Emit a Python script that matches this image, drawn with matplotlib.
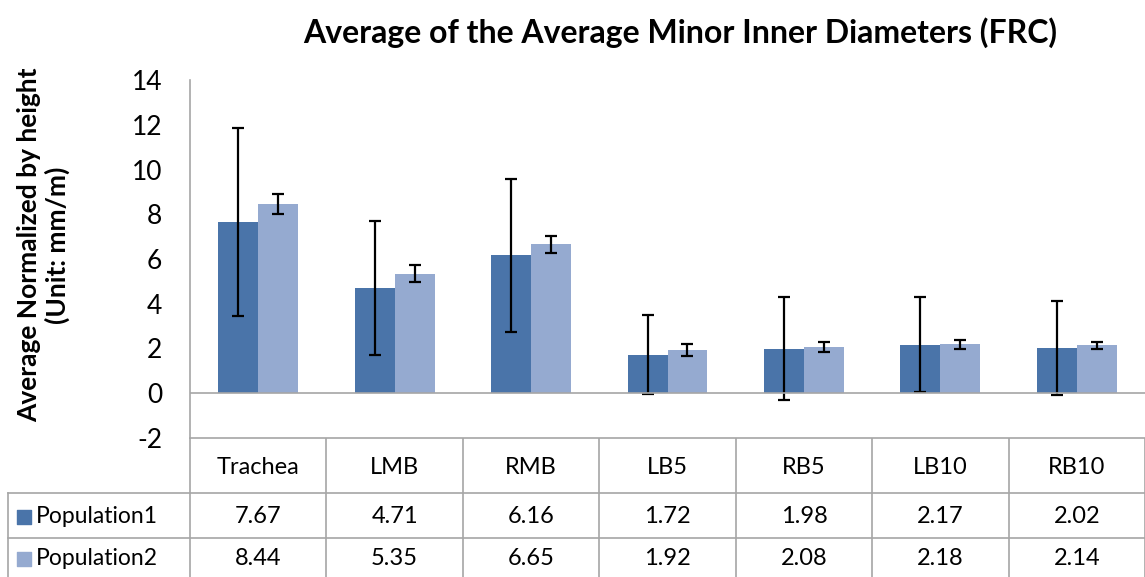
import matplotlib.pyplot as plt

categories = ["Trachea", "LMB", "RMB", "LB5", "RB5", "LB10", "RB10"]
series_names = ["Population1", "Population2"]
pop1 = [7.67, 4.71, 6.16, 1.72, 1.98, 2.17, 2.02]
pop2 = [8.44, 5.35, 6.65, 1.92, 2.08, 2.18, 2.14]
pop1_err = [4.2, 3.0, 3.43, 1.76, 2.3, 2.12, 2.12]
pop2_err = [0.45, 0.38, 0.4, 0.26, 0.23, 0.22, 0.17]
yticks = [-2, 0, 2, 4, 6, 8, 10, 12, 14]

colors = ["#4A74A9", "#95AAD0"]
grid_color = "#A6A6A6"
font = "Lato"

W, H = 1145, 577
fig = plt.figure(figsize=(W / 100, H / 100), dpi=100)

# plot area in pixels
left_px, right_px, top_px, bot_px = 190, 1145, 80, 438
ax = fig.add_axes([left_px / W, 1 - bot_px / H, (right_px - left_px) / W, (bot_px - top_px) / H])

n = len(categories)
x = list(range(n))
bw = 0.293
ax.bar([i - bw / 2 for i in x], pop1, bw, color=colors[0])
ax.bar([i + bw / 2 for i in x], pop2, bw, color=colors[1])
ax.errorbar([i - bw / 2 for i in x], pop1, yerr=pop1_err, fmt="none",
            ecolor="black", elinewidth=1.6, capsize=4, capthick=1.6)
ax.errorbar([i + bw / 2 for i in x], pop2, yerr=pop2_err, fmt="none",
            ecolor="black", elinewidth=1.6, capsize=4, capthick=1.6)

ax.set_xlim(-0.5, n - 0.5)
ax.set_ylim(-2, 14)
ax.set_yticks(yticks)
ax.set_yticklabels([str(t) for t in yticks], fontsize=19, family=font)
ax.tick_params(axis="y", length=0, pad=20)
ax.set_xticks([])
ax.axhline(0, color=grid_color, lw=1.2)
for s in ["top", "right"]:
    ax.spines[s].set_visible(False)
ax.spines["left"].set_color(grid_color)
ax.spines["bottom"].set_color(grid_color)
ax.spines["left"].set_linewidth(1.2)
ax.spines["bottom"].set_linewidth(1.2)

fig.text(680 / W, 1 - 33 / H, "Average of the Average Minor Inner Diameters (FRC)",
         ha="center", va="center", fontsize=23, fontweight="bold", family=font)
fig.text(29 / W, 1 - 245 / H, "Average Normalized by height", rotation=90,
         ha="center", va="center", fontsize=19, fontweight="bold", family=font)
fig.text(57 / W, 1 - 245 / H, "(Unit: mm/m)", rotation=90,
         ha="center", va="center", fontsize=19, fontweight="bold", family=font)

# data table under the plot, sharing the category scale
cat_w = (right_px - left_px) / n
tx0 = -0.5 - left_px / cat_w
tab = fig.add_axes([0, 0, 1, 1 - bot_px / H])
tab.set_xlim(tx0, n - 0.5)
tab.set_ylim(H, bot_px)
tab.axis("off")

row_y = [bot_px, 493, 538, H]
label_x = tx0 + 8 / cat_w
for k in range(n + 1):
    tab.plot([k - 0.5, k - 0.5], [bot_px, H], color=grid_color, lw=1.2)
tab.plot([label_x, label_x], [row_y[1], H], color=grid_color, lw=1.2)
for yy in row_y[1:3]:
    tab.plot([label_x, n - 0.5], [yy, yy], color=grid_color, lw=1.2)

for i, c in enumerate(categories):
    tab.text(i, (row_y[0] + row_y[1]) / 2 + 2, c, ha="center", va="center",
             fontsize=17, family=font)
for r, (vals, name) in enumerate(zip([pop1, pop2], series_names)):
    yc = (row_y[r + 1] + row_y[r + 2]) / 2 + 1
    for i, v in enumerate(vals):
        tab.text(i, yc, f"{v:.2f}", ha="center", va="center", fontsize=17, family=font)
    tab.scatter([tx0 + 24 / cat_w], [yc], marker="s", s=95, color=colors[r])
    tab.text(tx0 + 36 / cat_w, yc, name, ha="left", va="center", fontsize=16.5, family=font)

fig.savefig("out.png", dpi=100)
